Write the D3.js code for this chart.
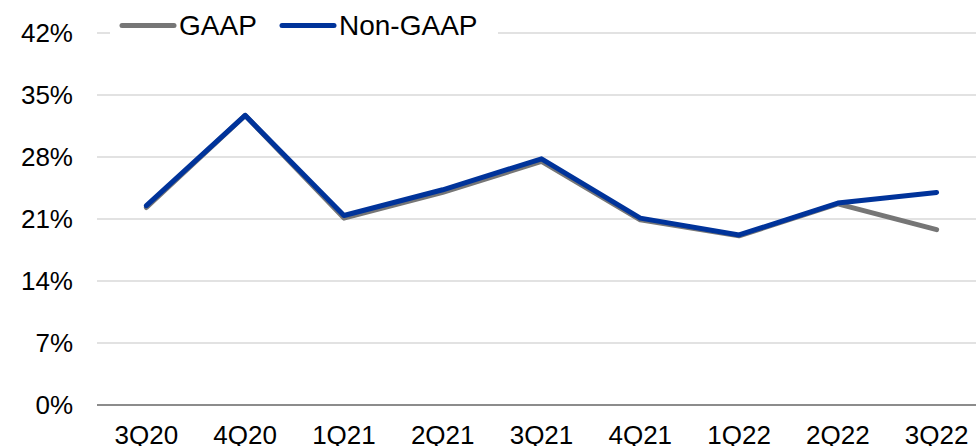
<!DOCTYPE html>
<html>
<head>
<meta charset="utf-8">
<script src="https://cdn.jsdelivr.net/npm/d3@7"></script>
<style>
  body { margin: 0; background: #fff; }
  svg { display: block; font-family: "Liberation Sans", Arial, sans-serif; }
</style>
</head>
<body>
<svg id="chart" width="976" height="446"></svg>
<script>
// chart data
const quarters = ["3Q20", "4Q20", "1Q21", "2Q21", "3Q21", "4Q21", "1Q22", "2Q22", "3Q22"];
const gaap = [22.3, 32.7, 21.1, 24.0, 27.5, 20.9, 19.1, 22.7, 19.8];
const nonGaap = [22.5, 32.7, 21.4, 24.3, 27.8, 21.1, 19.2, 22.8, 24.0];
const yTicks = [0, 7, 14, 21, 28, 35, 42];

const svg = d3.select("#chart");
const plotLeft = 97, plotRight = 986, plotTop = 33, plotBottom = 405;

const x = d3.scaleBand().domain(quarters).range([plotLeft, plotRight]).padding(0);
const y = d3.scaleLinear().domain([0, 42]).range([plotBottom, plotTop]);

// gridlines
svg.append("g").selectAll("line")
    .data(yTicks.filter(d => d > 0))
    .enter().append("line")
    .attr("x1", plotLeft).attr("x2", 976)
    .attr("y1", d => y(d)).attr("y2", d => y(d))
    .attr("stroke", "#d9d9d9").attr("stroke-width", 1.5);

// baseline
svg.append("line")
    .attr("x1", plotLeft).attr("x2", 976)
    .attr("y1", y(0)).attr("y2", y(0))
    .attr("stroke", "#8c8c8c").attr("stroke-width", 2);

// y labels
svg.append("g").selectAll("text")
    .data(yTicks)
    .enter().append("text")
    .attr("x", 73).attr("y", d => y(d) + 9)
    .attr("text-anchor", "end")
    .attr("font-size", 26).attr("fill", "#000")
    .text(d => d + "%");

// x labels
svg.append("g").selectAll("text")
    .data(quarters)
    .enter().append("text")
    .attr("x", d => x(d) + x.bandwidth() / 2)
    .attr("y", 444)
    .attr("text-anchor", "middle")
    .attr("font-size", 26).attr("fill", "#000")
    .text(d => d);

const line = d3.line()
    .x((d, i) => x(quarters[i]) + x.bandwidth() / 2)
    .y(d => y(d));

svg.append("path").datum(gaap)
    .attr("d", line).attr("fill", "none")
    .attr("stroke", "#767676").attr("stroke-width", 5)
    .attr("stroke-linecap", "round").attr("stroke-linejoin", "round");

svg.append("path").datum(nonGaap)
    .attr("d", line).attr("fill", "none")
    .attr("stroke", "#00339a").attr("stroke-width", 5)
    .attr("stroke-linecap", "round").attr("stroke-linejoin", "round");

// legend
const legend = svg.append("g");
legend.append("rect").attr("x", 110).attr("y", 8).attr("width", 388).attr("height", 36).attr("fill", "#fff");
const items = [{name: "GAAP", color: "#767676", x: 122}, {name: "Non-GAAP", color: "#00339a", x: 282}];
items.forEach(it => {
    legend.append("line")
        .attr("x1", it.x).attr("x2", it.x + 52)
        .attr("y1", 25.5).attr("y2", 25.5)
        .attr("stroke", it.color).attr("stroke-width", 5)
        .attr("stroke-linecap", "round");
    legend.append("text")
        .attr("x", it.x + 57).attr("y", 35)
        .attr("font-size", 28).attr("fill", "#000")
        .text(it.name);
});
</script>
</body>
</html>
